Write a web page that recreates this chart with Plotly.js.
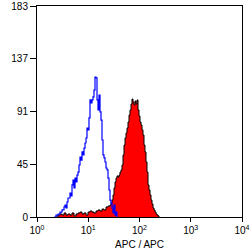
<!DOCTYPE html>
<html>
<head>
<meta charset="utf-8">
<script src="https://cdn.plot.ly/plotly-3.0.1.min.js"></script>
<style>html,body{margin:0;padding:0;background:#fff}#chart{width:250px;height:250px}</style>
</head>
<body>
<div id="chart"></div>
<script>
// Isotype control (blue outline)
var controlX = [2.146,2.348,2.569,2.811,3.075,3.364,3.518,3.681,3.849,4.026,4.405,4.607,4.818,5.040,5.272,5.513,5.768,6.032,6.310,6.600,6.903,7.221,7.551,7.900,8.262,8.643,9.040,9.454,9.888,10.34,10.82,11.31,11.84,12.38,12.95,13.54,14.17,14.82,15.50,16.21,16.96,17.74,18.55,19.40,20.29,21.22,22.20,23.22,24.29,25.40,26.57,27.79,29.07,30.40,31.80,33.27,34.79,36.39];
var controlY = [0,1.7,2.6,4.3,6.1,8.7,10.4,7.8,13,16.5,20.8,18.2,27.8,32.1,25.2,33.8,30.4,36.4,39,45.1,52,49.4,56.4,53.8,59.8,64.2,68.5,77.2,75.5,85.9,101.5,98.9,101.5,104.1,110.1,121.4,120.6,101.5,92.8,105.8,91.1,84.1,66.8,53.8,51.2,47.7,42.5,40.8,33.8,23.4,14.7,12.1,7.8,3.5,10.4,1.7,4.3,0];
// Stained sample (red filled)
var sampleX = [2.348,2.569,2.811,3.075,3.364,3.681,4.026,4.405,4.818,5.272,5.768,6.310,6.903,7.551,8.262,9.040,9.888,10.82,11.84,12.95,14.17,15.50,16.96,18.55,20.29,22.20,24.29,26.57,27.79,29.07,30.40,31.80,33.27,34.79,36.39,38.06,39.81,41.64,43.55,45.55,47.64,49.86,52.14,54.53,57.03,59.65,62.39,65.25,68.25,71.40,74.68,78.11,81.69,85.44,89.37,93.48,97.77,102.3,107.0,111.9,117.0,122.4,128.0,133.9,140.1,146.6,153.3,160.3,167.7,175.4,183.4,191.9,200.7,209.9,219.5,229.6,240.2];
var sampleY = [0,1.7,2.6,1.7,3.5,1.7,2.6,1.7,3.5,0.9,2.6,3.5,4.3,2.6,3.5,1.7,4.3,5.2,4.3,3.5,5.2,6.1,5.2,6.9,6.1,8.7,9.5,10.4,12.1,14.7,19.1,25.2,30.4,33.8,35.6,34.7,36.4,39,40.8,45.1,53.8,62.4,68.5,72.9,77.2,82.4,88.5,92.8,98,102.3,99.7,97.1,100.6,98,101.5,92.8,87.6,82.4,79.8,75.5,71.1,62.4,56.4,47.7,39,27.8,23.4,19.1,14.7,11.3,7.8,6.1,4.3,2.6,1.7,0.9,0];
var xTickVals = [1,10,100,1000,10000];
var xTickText = ['10<sup>0</sup>','10<sup>1</sup>','10<sup>2</sup>','10<sup>3</sup>','10<sup>4</sup>'];
var yTickVals = [0,45.75,91.5,137.25,183];
var yTickText = ['0','45','91','137','183'];

var traces = [
  {x: sampleX, y: sampleY, type: 'scatter', mode: 'lines', line: {shape: 'hv', color: '#000000', width: 1},
   fill: 'tozeroy', fillcolor: '#ff0000', hoverinfo: 'skip'},
  {x: controlX, y: controlY, type: 'scatter', mode: 'lines', line: {shape: 'hv', color: '#0000ff', width: 1.2},
   hoverinfo: 'skip'}
];
var font = {family: 'Liberation Sans, Arial, sans-serif', size: 10, color: '#000'};
var layout = {
  width: 250, height: 250,
  margin: {l: 37, r: 8, t: 6, b: 33},
  paper_bgcolor: '#fff', plot_bgcolor: '#fff',
  showlegend: false,
  font: font,
  xaxis: {type: 'log', range: [0, 4], tickvals: xTickVals, ticktext: xTickText,
    ticks: 'outside', ticklen: 4, tickcolor: '#000', tickwidth: 1,
    showline: true, linecolor: '#000', linewidth: 1, mirror: true, showgrid: false, zeroline: false,
    tickfont: font, title: {text: 'APC / APC', font: font, standoff: 6}},
  yaxis: {range: [0, 183], tickvals: yTickVals, ticktext: yTickText,
    ticks: 'outside', ticklen: 6, tickcolor: '#000', tickwidth: 1,
    showline: true, linecolor: '#000', linewidth: 1, mirror: true, showgrid: false, zeroline: false,
    tickfont: font}
};
Plotly.newPlot('chart', traces, layout, {displayModeBar: false, staticPlot: true});
</script>
</body>
</html>
